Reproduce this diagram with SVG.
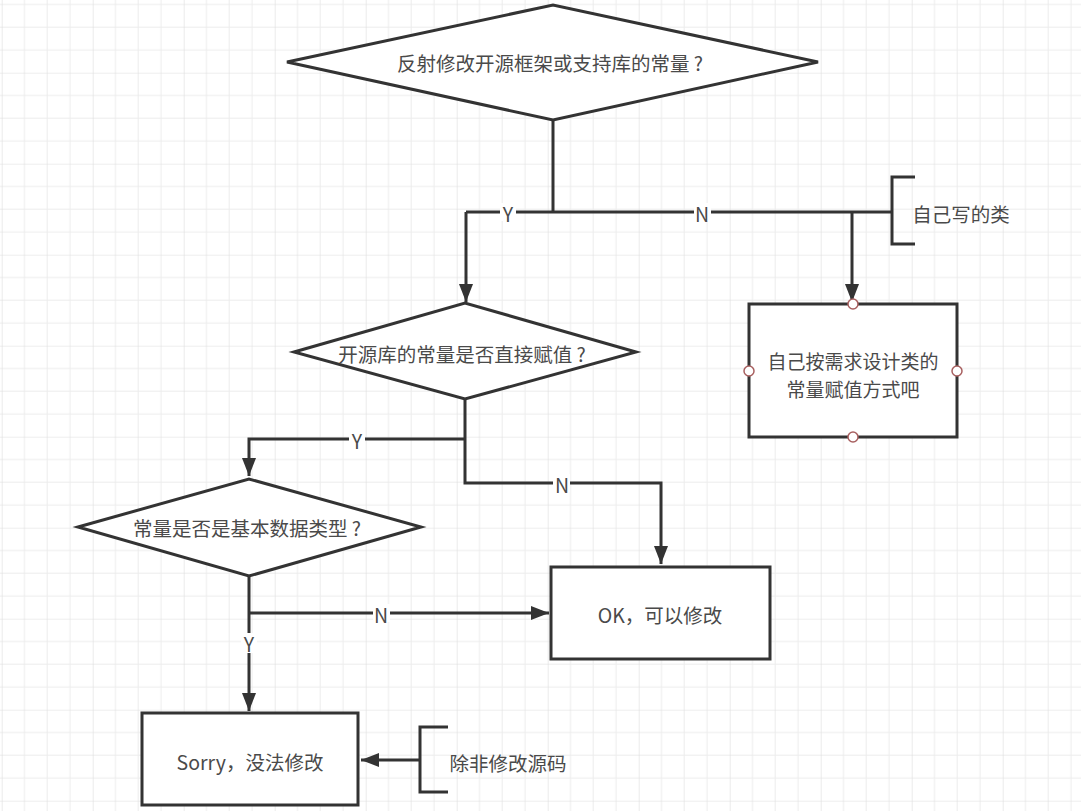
<svg xmlns="http://www.w3.org/2000/svg" width="1081" height="811" viewBox="0 0 1081 811">
<style>
.shape{fill:#fff;stroke:#333;stroke-width:3}
.line{fill:none;stroke:#333;stroke-width:3}
.t{font-family:"Noto Sans CJK SC","Noto Sans",sans-serif;font-size:19.5px;fill:#4a4a4a;text-anchor:middle;dominant-baseline:central}
.lbl{fill:#fff}
.pt{fill:#fff;stroke:#a86060;stroke-width:1.5}
</style>
<defs>
<pattern id="grid" patternUnits="userSpaceOnUse" x="1.7" y="-18.3" width="91" height="91">
<path d="M22.75 0V91M45.5 0V91M68.25 0V91M0 22.75H91M0 45.5H91M0 68.25H91" stroke="#ececec" stroke-width="1" fill="none"/>
<path d="M0 0V91M0 0H91" stroke="#dedede" stroke-width="1.2" fill="none"/>
</pattern>
<marker id="arr" markerUnits="userSpaceOnUse" markerWidth="20" markerHeight="16" refX="18" refY="7" orient="auto">
<path d="M0,0 L18,7 L0,14 z" fill="#333"/>
</marker>
</defs>
<rect width="1081" height="811" fill="#fff"/>
<rect width="1081" height="811" fill="url(#grid)"/>

<g id="connectors">
<path class="line" d="M553,120 V212"/>
<path class="line" d="M466,212 H892"/>
<path class="line" d="M466,212 V302" marker-end="url(#arr)"/>
<path class="line" d="M852,212 V302" marker-end="url(#arr)"/>
<path class="line" d="M915,177 H892 V244 H915"/>
<path class="line" d="M465,399 V483 H661 V564" marker-end="url(#arr)"/>
<path class="line" d="M465,439 H249 V476" marker-end="url(#arr)"/>
<path class="line" d="M249,576 V711" marker-end="url(#arr)"/>
<path class="line" d="M249,613 H549" marker-end="url(#arr)"/>
<path class="line" d="M448,727 H420 V792 H448"/>
<path class="line" d="M420,760 H361" marker-end="url(#arr)"/>
<rect class="lbl" x="500" y="203" width="16" height="18"/>
<text class="t" x="508" y="213">Y</text>
<rect class="lbl" x="694" y="203" width="17" height="18"/>
<text class="t" x="702" y="213">N</text>
<rect class="lbl" x="349" y="430" width="16" height="18"/>
<text class="t" x="357" y="440">Y</text>
<rect class="lbl" x="553" y="474" width="17" height="18"/>
<text class="t" x="562" y="484">N</text>
<rect class="lbl" x="373" y="604" width="17" height="18"/>
<text class="t" x="381" y="614">N</text>
<rect class="lbl" x="241" y="633" width="16" height="20"/>
<text class="t" x="249" y="643">Y</text>
</g>

<g id="q1">
<polygon class="shape" points="287,62 553,5 818,62 553,120"/>
<text class="t" x="550" y="62">反射修改开源框架或支持库的常量 ?</text>
</g>
<g id="own-class-note">
<text class="t" x="961" y="213">自己写的类</text>
</g>
<g id="design">
<rect class="shape" x="749" y="304" width="208" height="133"/>
<text class="t" x="853" y="360" style="font-size:19px">自己按需求设计类的</text>
<text class="t" x="853" y="388" style="font-size:19px">常量赋值方式吧</text>
<circle class="pt" cx="853" cy="304" r="5"/>
<circle class="pt" cx="749" cy="371" r="5"/>
<circle class="pt" cx="957" cy="371" r="5"/>
<circle class="pt" cx="853" cy="437" r="5"/>
</g>
<g id="q2">
<polygon class="shape" points="294,352 465,303 636,352 465,399"/>
<text class="t" x="462" y="353">开源库的常量是否直接赋值 ?</text>
</g>
<g id="q3">
<polygon class="shape" points="78,527 249,479 421,527 249,576"/>
<text class="t" x="247" y="527">常量是否是基本数据类型 ?</text>
</g>
<g id="ok">
<rect class="shape" x="551" y="567" width="219" height="92"/>
<text class="t" x="660" y="614">OK，可以修改</text>
</g>
<g id="sorry">
<rect class="shape" x="142" y="713" width="216" height="92"/>
<text class="t" x="250" y="761">Sorry，没法修改</text>
</g>
<g id="source-note">
<text class="t" x="508" y="762">除非修改源码</text>
</g>
</svg>
